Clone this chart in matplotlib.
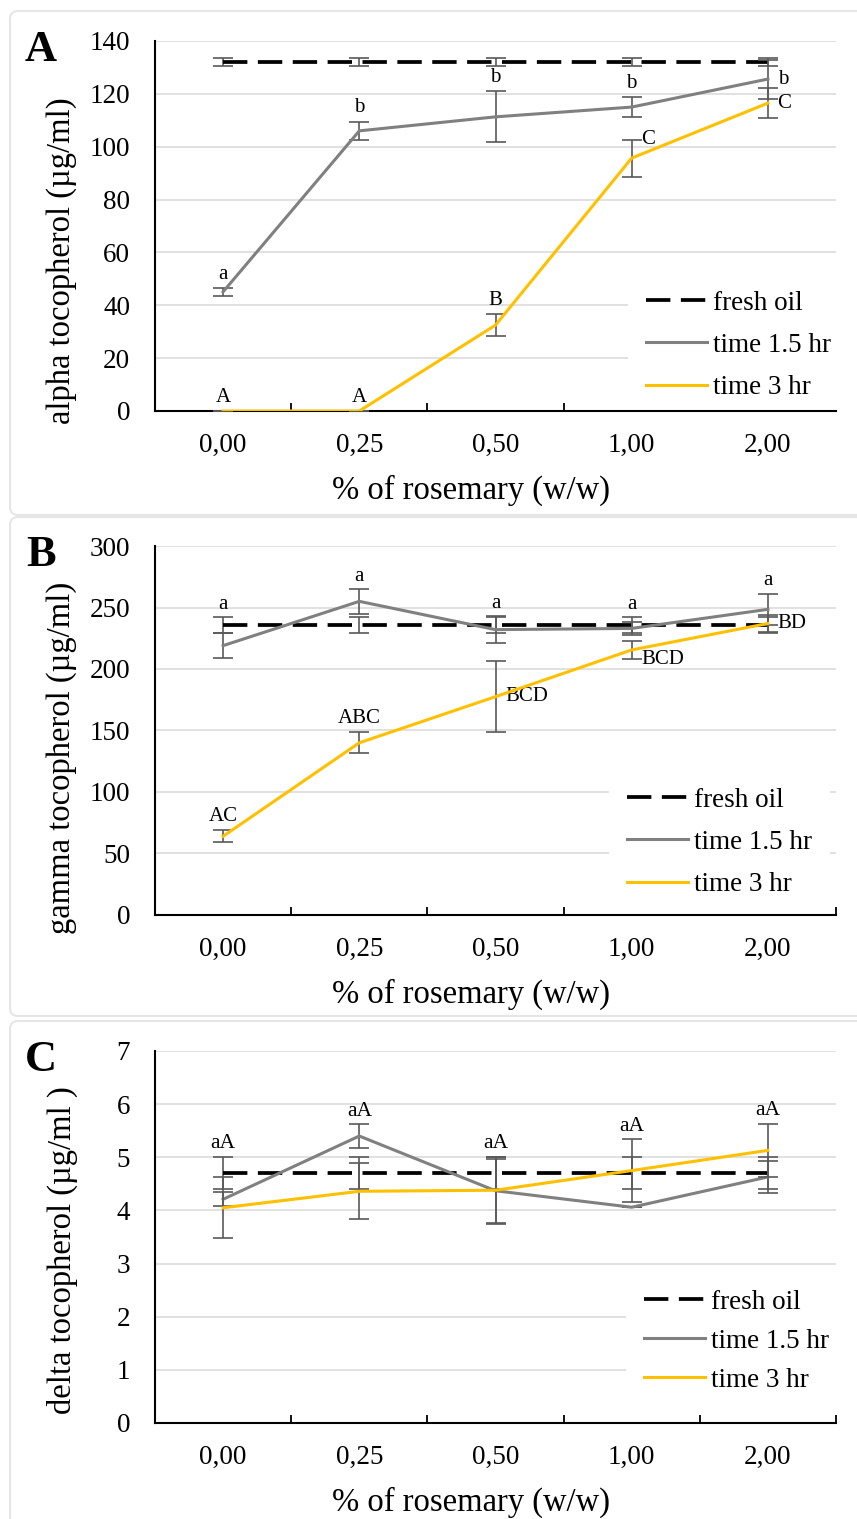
import numpy as np
import matplotlib
matplotlib.use("Agg")
import matplotlib.pyplot as plt
from matplotlib.patches import FancyBboxPatch
from matplotlib.lines import Line2D

plt.rcParams['font.family'] = ['Liberation Serif', 'DejaVu Serif']

W, H = 857, 1519

categories = ['0,00', '0,25', '0,50', '1,00', '2,00']
series_names = ['fresh oil', 'time 1.5 hr', 'time 3 hr']

# A - alpha tocopherol
alpha_fresh = [132, 132, 132, 132, 132]
alpha_fresh_err = [1.5, 1.5, 1.5, 1.5, 1.5]
alpha_15 = [45.1, 106.0, 111.3, 115.0, 125.6]
alpha_15_err = [1.5, 3.5, 9.6, 3.8, 7.4]
alpha_3 = [0, 0, 32.5, 95.7, 116.5]
alpha_3_err = [0, 0, 4.2, 7.0, 5.7]
alpha_15_letters = ['a', 'b', 'b', 'b', 'b']
alpha_3_letters = ['A', 'A', 'B', 'C', 'C']

# B - gamma tocopherol
gamma_fresh = [235.5, 235.5, 235.5, 235.5, 235.5]
gamma_fresh_err = [6.5, 6.5, 6.5, 6.5, 6.5]
gamma_15 = [219, 255, 232, 233, 248.5]
gamma_15_err = [10, 10, 11, 5, 12.5]
gamma_3 = [64, 140, 177.5, 215.5, 237]
gamma_3_err = [5, 8.5, 29, 7.5, 7.3]
gamma_15_letters = ['a', 'a', 'a', 'a', 'a']
gamma_3_letters = ['AC', 'ABC', 'BCD', 'BCD', 'BD']

# C - delta tocopherol
delta_fresh = [4.71, 4.71, 4.71, 4.71, 4.71]
delta_fresh_err = [0.3, 0.3, 0.3, 0.3, 0.3]
delta_15 = [4.21, 5.40, 4.37, 4.06, 4.63]
delta_15_err = [0.13, 0.22, 0.6, 0.0, 0.3]
delta_3 = [4.05, 4.36, 4.38, 4.75, 5.13]
delta_3_err = [0.57, 0.53, 0.63, 0.59, 0.5]
delta_letters = ['aA', 'aA', 'aA', 'aA', 'aA']

GREY = '#808080'
GOLD = '#FFC000'
ERR = '#595959'
GRID = '#d9d9d9'

fig = plt.figure(figsize=(W / 100, H / 100), dpi=100)

# background layer in pixel units (y down) for the panel frames and letters
bg = fig.add_axes([0, 0, 1, 1], zorder=-5)
bg.set_xlim(0, W)
bg.set_ylim(H, 0)
bg.axis('off')


def px_axes(left, top, right, bottom):
    return fig.add_axes([left / W, 1 - bottom / H, (right - left) / W, (bottom - top) / H])


def tops(*pairs):
    # highest error-bar end at every category
    return [max(v + e for v, e in col) for col in zip(*[list(zip(v, e)) for v, e in pairs])]


def put_letters(ax, vals, errs, letters, mode, top_all=None, size=15):
    for i, (v, e, t) in enumerate(zip(vals, errs, letters)):
        m = mode[i]
        if m == 'above':
            ax.annotate(t, (i, v + e), xytext=(0, 3), textcoords='offset points',
                        ha='center', va='bottom', fontsize=size)
        elif m == 'top':
            ax.annotate(t, (i, top_all[i]), xytext=(0, 2.5), textcoords='offset points',
                        ha='center', va='bottom', fontsize=size)
        else:
            y = {'right': v, 'right_hi': v + e, 'right_lo': v - e}[m]
            ax.annotate(t, (i, y), xytext=(7, 0), textcoords='offset points',
                        ha='left', va='center', fontsize=size)


panels = [
    dict(letter='A', box=(155, 41, 836, 411), frame=(10, 11, 880, 515), ylab_y=261,
         ylabel='alpha tocopherol (µg/ml)', ylim=140, ystep=20,
         fresh=(alpha_fresh, alpha_fresh_err), s15=(alpha_15, alpha_15_err), s3=(alpha_3, alpha_3_err),
         legend=(628, 273, 0.64)),
    dict(letter='B', box=(155, 546, 836, 915), frame=(10, 517, 880, 1016), ylab_y=758,
         ylabel='gamma tocopherol (µg/ml)', ylim=300, ystep=50,
         fresh=(gamma_fresh, gamma_fresh_err), s15=(gamma_15, gamma_15_err), s3=(gamma_3, gamma_3_err),
         legend=(609, 770, 0.64)),
    dict(letter='C', box=(155, 1051, 836, 1423), frame=(10, 1021, 880, 1540), ylab_y=1250,
         ylabel='delta tocopherol (µg/ml )', ylim=7, ystep=1,
         fresh=(delta_fresh, delta_fresh_err), s15=(delta_15, delta_15_err), s3=(delta_3, delta_3_err),
         legend=(626, 1272, 0.52)),
]

x = np.arange(len(categories))
axes = []
for p in panels:
    fx0, fy0, fx1, fy1 = p['frame']
    bg.add_patch(FancyBboxPatch((fx0, fy0), fx1 - fx0, fy1 - fy0,
                                boxstyle='round,pad=0,rounding_size=8',
                                fc='white', ec='#e6e6e6', lw=1.5))
    bg.text(41, p['box'][1] + 9, p['letter'], fontsize=32, fontweight='bold',
            ha='center', va='center')

    l, t, r, b = p['box']
    ax = px_axes(l, t, r, b)
    axes.append(ax)

    fv, fe = p['fresh']
    ax.errorbar(x, fv, yerr=fe, color='black', lw=2.7, dashes=(6.5, 2.8),
                ecolor=ERR, elinewidth=1.2, capsize=7, capthick=1.2, zorder=3)
    v15, e15 = p['s15']
    ax.errorbar(x, v15, yerr=e15, color=GREY, lw=2.2,
                ecolor=ERR, elinewidth=1.2, capsize=7, capthick=1.2, zorder=4)
    v3, e3 = p['s3']
    ax.errorbar(x, v3, yerr=e3, color=GOLD, lw=2.2,
                ecolor=ERR, elinewidth=1.2, capsize=7, capthick=1.2, zorder=5)

    ax.set_xlim(-0.5, len(categories) - 0.5)
    ax.set_ylim(0, p['ylim'])
    ax.set_yticks(np.arange(0, p['ylim'] + p['ystep'] / 2, p['ystep']))
    ax.set_xticks(x)
    ax.set_xticklabels(categories)
    ax.set_xticks(x + 0.5, minor=True)
    ax.tick_params(axis='x', which='major', length=0, pad=16, labelsize=19.5)
    ax.tick_params(axis='x', which='minor', direction='in', length=6, width=1.3, color='black')
    ax.tick_params(axis='y', length=0, pad=18, labelsize=19.5)
    ax.grid(axis='y', color=GRID, lw=1.1)
    ax.set_axisbelow(True)
    for s in ['top', 'right']:
        ax.spines[s].set_visible(False)
    for s in ['left', 'bottom']:
        ax.spines[s].set_linewidth(1.5)
        ax.spines[s].set_color('black')

    ax.set_xlabel('% of rosemary (w/w)', fontsize=23.5, va='center')
    ax.xaxis.set_label_coords((471 - l) / (r - l), -79 / (b - t))
    ax.set_ylabel(p['ylabel'], fontsize=23.5, va='center')
    ax.yaxis.set_label_coords((62 - l) / (r - l), (b - p['ylab_y']) / (b - t))

    handles = [Line2D([], [], color='black', lw=2.7, dashes=(6.5, 2.8)),
               Line2D([], [], color=GREY, lw=2.2),
               Line2D([], [], color=GOLD, lw=2.2)]
    lx, ly, lsp = p['legend']
    leg = ax.legend(handles, series_names, loc='upper left',
                    bbox_to_anchor=(lx / W, 1 - ly / H), bbox_transform=fig.transFigure,
                    fontsize=19.5, frameon=True, fancybox=False, borderpad=0.65,
                    borderaxespad=0, labelspacing=lsp, handlelength=2.25, handletextpad=0.25)
    leg.get_frame().set_facecolor('white')
    leg.get_frame().set_edgecolor('none')
    leg.get_frame().set_alpha(1)
    # above the gridlines, below the axis lines and ticks
    leg.set_zorder(2.4)

# significance letters
axA, axB, axC = axes
put_letters(axA, alpha_15, alpha_15_err, alpha_15_letters, ['above'] * 4 + ['right'])
put_letters(axA, alpha_3, alpha_3_err, alpha_3_letters, ['above', 'above', 'above', 'right_hi', 'right'])
gamma_top = tops((gamma_fresh, gamma_fresh_err), (gamma_15, gamma_15_err), (gamma_3, gamma_3_err))
put_letters(axB, gamma_15, gamma_15_err, gamma_15_letters, ['top'] * 5, top_all=gamma_top)
put_letters(axB, gamma_3, gamma_3_err, gamma_3_letters, ['above', 'above', 'right', 'right_lo', 'right'])
delta_top = tops((delta_fresh, delta_fresh_err), (delta_15, delta_15_err), (delta_3, delta_3_err))
put_letters(axC, delta_15, delta_15_err, delta_letters, ['top'] * 5, top_all=delta_top, size=15.5)

fig.savefig('out.png', dpi=100)
